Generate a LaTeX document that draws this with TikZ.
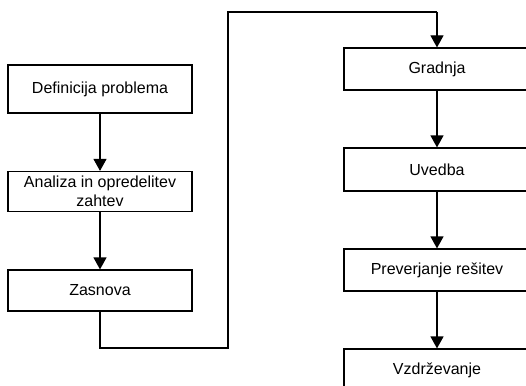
\documentclass[tikz,border=0pt]{standalone}
\usepackage{fontspec}
\setmainfont{Liberation Sans}
\usetikzlibrary{arrows.meta}
\begin{document}
\begin{tikzpicture}[x=1pt,y=-1pt,
  stepbox/.style={draw=black,line width=1.2pt,fill=white,inner sep=0pt,
    minimum width=184pt,align=center,
    font=\fontsize{16pt}{18.5pt}\selectfont},
  flow/.style={draw=black,line width=1.2pt,-{Triangle[width=13pt,length=12pt]}},
  link/.style={draw=black,line width=1.2pt}]
\clip (0,0) rectangle (526,385);
\fill[white] (0,0) rectangle (526,385);

% left column
\node[stepbox,minimum height=48pt] (def) at (100,89) {Definicija problema};
\node[stepbox,minimum height=40pt] (ana) at (100,191.5) {Analiza in opredelitev\\zahtev};
\node[stepbox,minimum height=41pt] (zas) at (100,290.5) {Zasnova};

% right column
\node[stepbox,minimum width=186pt,minimum height=42pt] (gra) at (437,69) {Gradnja};
\node[stepbox,minimum width=186pt,minimum height=43pt] (uve) at (437,169.5) {Uvedba};
\node[stepbox,minimum width=186pt,minimum height=42pt] (pre) at (437,270) {Preverjanje rešitev};
\node[stepbox,minimum width=186pt,minimum height=42pt] (vzd) at (437,370) {Vzdrževanje};

% routing points of the long connector
\coordinate (r1) at (100,348);
\coordinate (r2) at (228,348);
\coordinate (r3) at (228,12);
\coordinate (r4) at (437,12);

\draw[flow] (def) -- (ana);
\draw[flow] (ana) -- (zas);
\draw[link] (zas.south) -- (r1) -- (r2) -- (r3) -- (r4);
\draw[flow] (r4) -- (gra.north);
\draw[flow] (gra) -- (uve);
\draw[flow] (uve) -- (pre);
\draw[flow] (pre) -- (vzd);
\end{tikzpicture}
\end{document}
